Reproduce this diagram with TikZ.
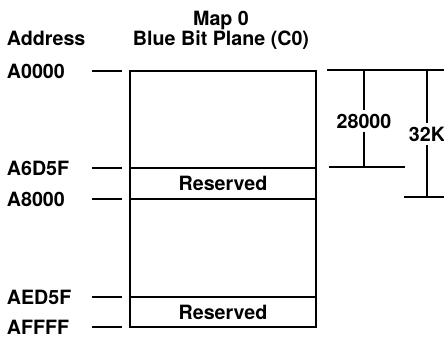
\documentclass[tikz,border=0pt]{standalone}
\usepackage{fontspec}
\setmainfont{TeX Gyre Heros}
\usepackage{tikz}
\usetikzlibrary{positioning,calc}

\begin{document}
\begin{tikzpicture}[
  x=0.02cm,y=-0.02cm,
  txt/.style={font=\bfseries\fontsize{11.2}{13}\selectfont,inner sep=2pt},
  plane/.style={draw,line width=1.3pt,minimum width=3.72cm,outer sep=0pt,inner sep=0pt,txt},
  thin/.style={line width=0.9pt}
]
\useasboundingbox (0,0) rectangle (444,343);
% headings
\node[txt,anchor=base] (map) at (221,25) {Map 0};
\node[txt,anchor=base] (title) at (221,45) {Blue Bit Plane (C0)};
\node[txt,anchor=base west] (addrhd) at (3,45) {Address};
% bit plane blocks
\node[plane,minimum height=1.94cm] (blk0) at (223,119.5) {};
\node[plane,minimum height=0.62cm,below=0pt of blk0] (res0) {Reserved};
\node[plane,minimum height=1.96cm,below=0pt of res0] (blk1) {};
\node[plane,minimum height=0.60cm,below=0pt of blk1] (res1) {Reserved};
% addresses
\foreach \n/\t/\a in {0/A0000/blk0.north west,1/A6D5F/res0.north west,2/A8000/blk1.north west,3/AED5F/res1.north west,4/AFFFF/res1.south west} {
  \node[txt,anchor=west] (addr\n) at (3,0 |- \a) {\t};
  \draw[thin] (\a) ++(-38,0) -- ++(30,0);
}
% sizes
\coordinate (dtop) at (327,70);
\coordinate (dtopend) at (450,70);
\coordinate (b28l) at (329,167);
\coordinate (b28r) at (405,167);
\coordinate (b32l) at (404,197);
\coordinate (b32r) at (450,197);
\node[txt] (d28) at (364,121) {28000};
\node[txt] (d32) at (427,134) {32K};
\draw[thin] (dtop) -- (dtopend);
\draw[thin] (b28l) -- (b28r);
\draw[thin] (b32l) -- (b32r);
\draw[thin] (d28.north |- dtop) -- (d28.north);
\draw[thin] (d28.south) -- (d28.south |- b28l);
\draw[thin] (d32.north |- dtop) -- (d32.north);
\draw[thin] (d32.south) -- (d32.south |- b32l);
\end{tikzpicture}
\end{document}
